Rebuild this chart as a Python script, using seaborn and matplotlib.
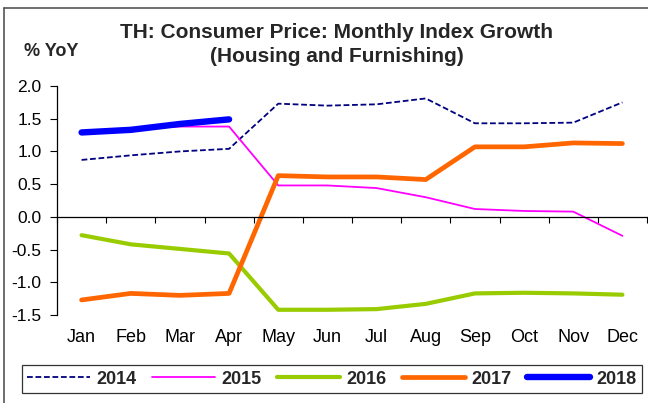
import matplotlib
matplotlib.use("Agg")
import matplotlib.pyplot as plt
import matplotlib.lines as mlines
import seaborn as sns
import pandas as pd
import numpy as np

months = ["Jan", "Feb", "Mar", "Apr", "May", "Jun",
          "Jul", "Aug", "Sep", "Oct", "Nov", "Dec"]

y2014 = [0.87, 0.94, 1.00, 1.04, 1.73, 1.70, 1.72, 1.81, 1.43, 1.43, 1.44, 1.75]
y2015 = [1.30, 1.35, 1.38, 1.38, 0.48, 0.48, 0.44, 0.30, 0.12, 0.09, 0.08, -0.29]
y2016 = [-0.28, -0.42, -0.49, -0.56, -1.42, -1.42, -1.41, -1.33, -1.17, -1.16, -1.17, -1.19]
y2017 = [-1.27, -1.17, -1.20, -1.17, 0.63, 0.61, 0.61, 0.57, 1.07, 1.07, 1.13, 1.12]
y2018 = [1.29, 1.33, 1.42, 1.49]

years = ["2014", "2015", "2016", "2017", "2018"]
series = [y2014, y2015, y2016, y2017, y2018]
colors = ["#000080", "#FF00FF", "#99CC00", "#FF6600", "#0000FF"]
widths = [1.3, 1.3, 3.0, 3.4, 4.6]
styles = [(0, (3.2, 1.5)), "-", "-", "-", "-"]

rows = []
for yr, vals in zip(years, series):
    for i, v in enumerate(vals):
        rows.append({"year": yr, "pos": i, "value": v})
df = pd.DataFrame(rows)

sns.set_theme(style="white")
plt.rcParams["font.family"] = ["Liberation Sans", "DejaVu Sans"]

fig = plt.figure(figsize=(6.48, 4.03), dpi=100)
ax = fig.add_axes([57 / 648, 1 - 315 / 403, 590 / 648, 229 / 403])

for yr, c, lw, ls in zip(years, colors, widths, styles):
    sub = df[df["year"] == yr]
    sns.lineplot(data=sub, x="pos", y="value", color=c, linewidth=lw,
                 linestyle=ls, ax=ax, legend=False,
                 solid_capstyle="round", dash_capstyle="butt")

ax.set_xlim(-0.5, len(months) - 0.5)
ax.set_ylim(-1.5, 2.0)
yt = np.arange(-1.5, 2.01, 0.5)
ax.set_yticks(yt)
ax.set_yticklabels([f"{t:.1f}" for t in yt], fontsize=12.5)
ax.tick_params(axis="y", direction="out", length=5, width=0.8, color="black",
               pad=6, left=True, labelcolor="black")

# category boundary ticks on the zero line
ax.spines["bottom"].set_position(("data", 0))
ax.set_xticks(np.arange(-0.5, len(months), 1.0))
ax.set_xticklabels([])
ax.tick_params(axis="x", direction="out", length=4, width=0.8, color="black",
               bottom=True)
for s in ["top", "right"]:
    ax.spines[s].set_visible(False)
for s in ["left", "bottom"]:
    ax.spines[s].set_color("black")
    ax.spines[s].set_linewidth(0.9)
ax.set_xlabel("")
ax.set_ylabel("")

# month labels along the bottom of the plot area
sec = ax.secondary_xaxis(0)
sec.set_xticks(range(len(months)))
sec.set_xticklabels(months, fontsize=13)
sec.tick_params(length=0, pad=10, labelcolor="black")
sec.spines["bottom"].set_visible(False)

fig.text(337 / 648, 1 - 33 / 403, "TH: Consumer Price: Monthly Index Growth",
         ha="center", va="center", fontsize=15, fontweight="bold")
fig.text(337 / 648, 1 - 56 / 403, "(Housing and Furnishing)",
         ha="center", va="center", fontsize=15, fontweight="bold")
fig.text(51 / 648, 1 - 51 / 403, "% YoY", ha="center", va="center",
         fontsize=13, fontweight="bold")

handles = [mlines.Line2D([], [], color=c, linewidth=lw, linestyle=ls,
                         solid_capstyle="round")
           for c, lw, ls in zip(colors, widths, styles)]
leg = fig.legend(handles, years, loc="center",
                 bbox_to_anchor=(332 / 648, 1 - 379 / 403), ncol=5,
                 frameon=True, fancybox=False, edgecolor="black",
                 handlelength=3.5, handletextpad=0.35, columnspacing=0.85,
                 borderpad=0.3, prop={"weight": "bold", "size": 13})
leg.get_frame().set_linewidth(0.9)

# outer frame
fig.add_artist(mlines.Line2D([4 / 648, 4 / 648], [0, 1 - 8 / 403],
                             transform=fig.transFigure, color="#555555", lw=1.2))
fig.add_artist(mlines.Line2D([4 / 648, 1], [1 - 8 / 403, 1 - 8 / 403],
                             transform=fig.transFigure, color="#555555", lw=1.2))

fig.savefig("out.png", dpi=100)
